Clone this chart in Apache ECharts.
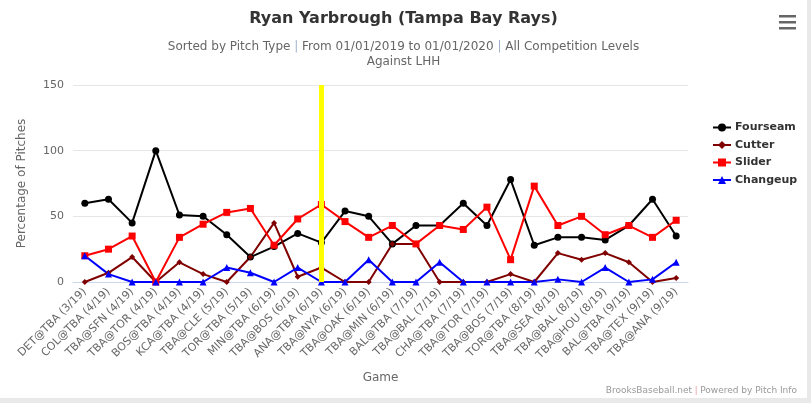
<!DOCTYPE html>
<html>
<head>
<meta charset="utf-8">
<script src="https://cdn.jsdelivr.net/npm/echarts@6/dist/echarts.min.js"></script>
<style>
  html, body { margin: 0; padding: 0; background: #e9e9e9; }
  #chart { width: 807px; height: 398px; background: #fff; }
</style>
</head>
<body>
<div id="chart"></div>
<script>
// games (x axis)
const games = [
  'DET@TBA (3/19)', 'COL@TBA (4/19)', 'TBA@SFN (4/19)', 'TBA@TOR (4/19)', 'BOS@TBA (4/19)',
  'KCA@TBA (4/19)', 'TBA@CLE (5/19)', 'TOR@TBA (5/19)', 'MIN@TBA (6/19)', 'TBA@BOS (6/19)',
  'ANA@TBA (6/19)', 'TBA@NYA (6/19)', 'TBA@OAK (6/19)', 'TBA@MIN (6/19)', 'BAL@TBA (7/19)',
  'TBA@BAL (7/19)', 'CHA@TBA (7/19)', 'TBA@TOR (7/19)', 'TBA@BOS (7/19)', 'TOR@TBA (8/19)',
  'TBA@SEA (8/19)', 'TBA@BAL (8/19)', 'TBA@HOU (8/19)', 'BAL@TBA (9/19)', 'TBA@TEX (9/19)',
  'TBA@ANA (9/19)'
];

// percentage of pitches per game
const fourseam = [60, 63, 45, 100, 51, 50, 36, 19, 27, 37, 30, 54, 50, 29, 43, 43, 60, 43, 78, 28, 34, 34, 32, 43, 63, 35];
const cutter   = [0, 7, 19, 0, 15, 6, 0, 19, 45, 4, 11, 0, 0, 29, 29, 0, 0, 0, 6, 0, 22, 17, 22, 15, 0, 3];
const slider   = [20, 25, 35, 0, 34, 44, 53, 56, 28, 48, 59, 46, 34, 43, 29, 43, 40, 57, 17, 73, 43, 50, 36, 43, 34, 47];
const changeup = [20, 6, 0, 0, 0, 0, 11, 7, 0, 11, 0, 0, 17, 0, 0, 15, 0, 0, 0, 0, 2, 0, 11, 0, 2, 15];

const yTicks = [0, 50, 100, 150];
// hand-drawn yellow highlight sits on this game
const highlightGame = 'ANA@TBA (6/19)';

const font = '"DejaVu Sans", Verdana, sans-serif';

function line(name, data, color, symbol, size) {
  return {
    name: name,
    type: 'line',
    data: data,
    symbol: symbol,
    symbolSize: size,
    showSymbol: true,
    lineStyle: { color: color, width: 2 },
    itemStyle: { color: color },
    emphasis: { disabled: true },
    animation: false
  };
}

const chart = echarts.init(document.getElementById('chart'));
chart.setOption({
  animation: false,
  textStyle: { fontFamily: font },
  title: {
    text: 'Ryan Yarbrough (Tampa Bay Rays)',
    left: 'center',
    top: 6,
    textStyle: { fontSize: 16, fontWeight: 'bold', color: '#333', fontFamily: font },
    subtext: 'Sorted by Pitch Type {s||} From 01/01/2019 to 01/01/2020 {s||} All Competition Levels\nAgainst LHH',
    itemGap: 12,
    subtextStyle: {
      fontSize: 12, color: '#666', lineHeight: 15, align: 'center', fontFamily: font,
      rich: { s: { color: '#a0b0cc', fontSize: 12 } }
    }
  },
  legend: {
    orient: 'vertical',
    left: 707,
    top: 117,
    itemGap: 6.5,
    itemWidth: 18,
    itemHeight: 10,
    textStyle: { fontWeight: 'bold', fontSize: 11, color: '#333', fontFamily: font, padding: [0, 0, 0, -1] },
    data: ['Fourseam', 'Cutter', 'Slider', 'Changeup']
  },
  grid: { left: 73, right: 119, top: 85, height: 197, containLabel: false },
  xAxis: {
    type: 'category',
    data: games,
    boundaryGap: true,
    name: 'Game',
    nameLocation: 'middle',
    nameGap: 90,
    nameTextStyle: { fontSize: 12, color: '#666' },
    axisLine: { show: true, lineStyle: { color: '#ccd6eb' } },
    axisTick: { show: false },
    axisLabel: { rotate: 45, fontSize: 11, color: '#666', interval: 0, margin: 8 }
  },
  yAxis: {
    type: 'value',
    min: yTicks[0],
    max: yTicks[yTicks.length - 1],
    interval: 50,
    name: 'Percentage of Pitches',
    nameLocation: 'middle',
    nameGap: 45,
    nameTextStyle: { fontSize: 12, color: '#666' },
    axisLine: { show: false },
    axisTick: { show: false },
    axisLabel: { fontSize: 11, color: '#666', margin: 9 },
    splitLine: { lineStyle: { color: '#e6e6e6' } }
  },
  series: [
    line('Fourseam', fourseam, '#000000', 'circle', 7),
    line('Cutter', cutter, '#800000', 'diamond', 6),
    line('Slider', slider, '#ff0000', 'rect', 7),
    line('Changeup', changeup, '#0000ff', 'triangle', 7),
    {
      type: 'line',
      data: [],
      z: 10,
      silent: true,
      markLine: {
        symbol: 'none',
        silent: true,
        label: { show: false },
        lineStyle: { color: '#ffff00', width: 5, type: 'solid' },
        data: [[{ coord: [highlightGame, 0] }, { coord: [highlightGame, 150] }]]
      }
    }
  ],
  graphic: [
    { type: 'rect', left: 779, top: 15, shape: { width: 17, height: 2.5 }, style: { fill: '#666' } },
    { type: 'rect', left: 779, top: 21, shape: { width: 17, height: 2.5 }, style: { fill: '#666' } },
    { type: 'rect', left: 779, top: 27, shape: { width: 17, height: 2.5 }, style: { fill: '#666' } },
    {
      type: 'text', right: 10, top: 386,
      style: {
        text: 'BrooksBaseball.net {s||} Powered by Pitch Info',
        fontSize: 9, fill: '#999', fontFamily: font,
        rich: { s: { fill: '#e8a0a0', fontSize: 9 } }
      }
    }
  ]
});
</script>
</body>
</html>
